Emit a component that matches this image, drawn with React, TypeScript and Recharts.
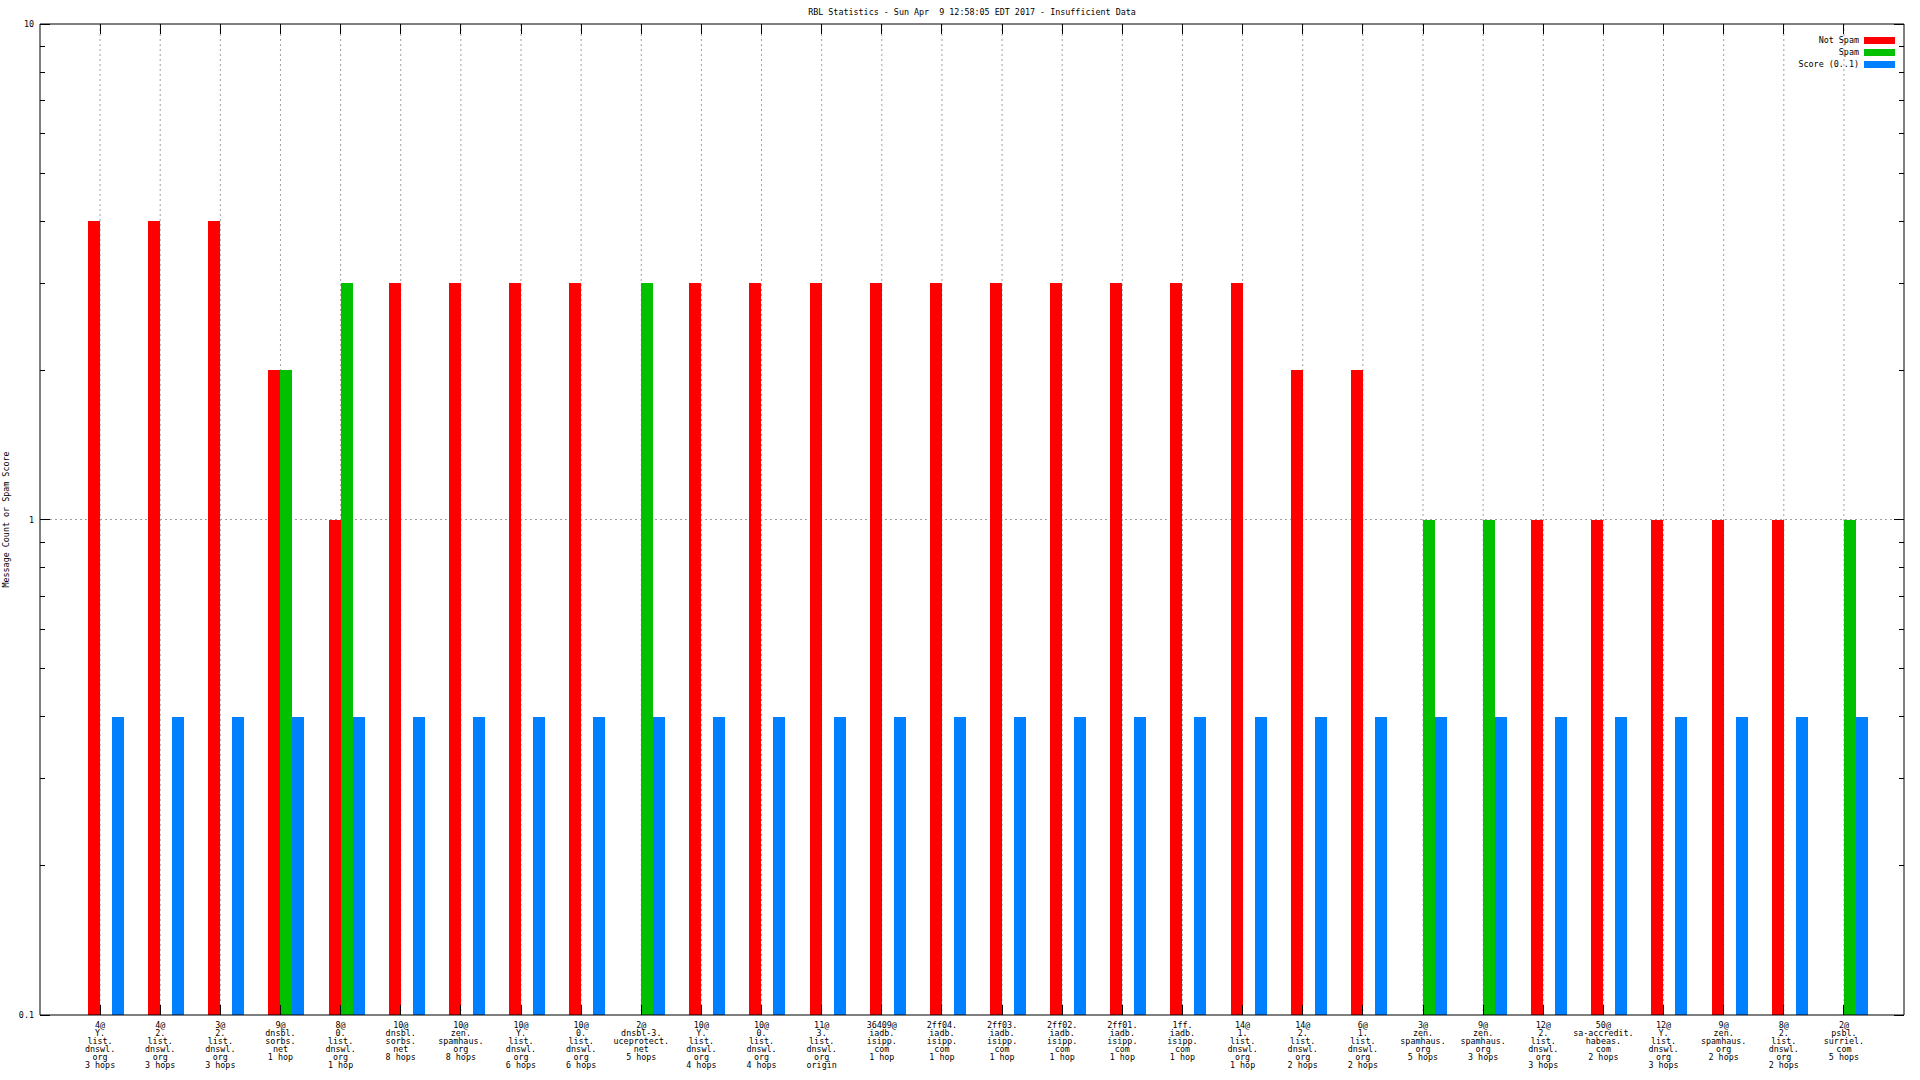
import React from 'react';
import { BarChart, Bar, XAxis, YAxis, CartesianGrid, Legend } from 'recharts';

const TITLE = 'RBL Statistics - Sun Apr  9 12:58:05 EDT 2017 - Insufficient Data';
const Y_TITLE = 'Message Count or Spam Score';

const LABELS = [
  '4@\nY.\nlist.\ndnswl.\norg\n3 hops',
  '4@\n2.\nlist.\ndnswl.\norg\n3 hops',
  '3@\n2.\nlist.\ndnswl.\norg\n3 hops',
  '9@\ndnsbl.\nsorbs.\nnet\n1 hop',
  '8@\n0.\nlist.\ndnswl.\norg\n1 hop',
  '10@\ndnsbl.\nsorbs.\nnet\n8 hops',
  '10@\nzen.\nspamhaus.\norg\n8 hops',
  '10@\nY.\nlist.\ndnswl.\norg\n6 hops',
  '10@\n0.\nlist.\ndnswl.\norg\n6 hops',
  '2@\ndnsbl-3.\nuceprotect.\nnet\n5 hops',
  '10@\nY.\nlist.\ndnswl.\norg\n4 hops',
  '10@\n0.\nlist.\ndnswl.\norg\n4 hops',
  '11@\n3.\nlist.\ndnswl.\norg\norigin',
  '36409@\niadb.\nisipp.\ncom\n1 hop',
  '2ff04.\niadb.\nisipp.\ncom\n1 hop',
  '2ff03.\niadb.\nisipp.\ncom\n1 hop',
  '2ff02.\niadb.\nisipp.\ncom\n1 hop',
  '2ff01.\niadb.\nisipp.\ncom\n1 hop',
  '1ff.\niadb.\nisipp.\ncom\n1 hop',
  '14@\n1.\nlist.\ndnswl.\norg\n1 hop',
  '14@\n2.\nlist.\ndnswl.\norg\n2 hops',
  '6@\n1.\nlist.\ndnswl.\norg\n2 hops',
  '3@\nzen.\nspamhaus.\norg\n5 hops',
  '9@\nzen.\nspamhaus.\norg\n3 hops',
  '12@\n2.\nlist.\ndnswl.\norg\n3 hops',
  '50@\nsa-accredit.\nhabeas.\ncom\n2 hops',
  '12@\nY.\nlist.\ndnswl.\norg\n3 hops',
  '9@\nzen.\nspamhaus.\norg\n2 hops',
  '8@\n2.\nlist.\ndnswl.\norg\n2 hops',
  '2@\npsbl.\nsurriel.\ncom\n5 hops',
];

const NOT_SPAM = [4, 4, 4, 2, 1, 3, 3, 3, 3, null, 3, 3, 3, 3, 3, 3, 3, 3, 3, 3, 2, 2, null, null, 1, 1, 1, 1, 1, null];
const SPAM = [null, null, null, 2, 3, null, null, null, null, 3, null, null, null, null, null, null, null, null, null, null, null, null, 1, 1, null, null, null, null, null, 1];
const SCORE = [0.4, 0.4, 0.4, 0.4, 0.4, 0.4, 0.4, 0.4, 0.4, 0.4, 0.4, 0.4, 0.4, 0.4, 0.4, 0.4, 0.4, 0.4, 0.4, 0.4, 0.4, 0.4, 0.4, 0.4, 0.4, 0.4, 0.4, 0.4, 0.4, 0.4];

const SERIES_NAMES = ['Not Spam', 'Spam', 'Score (0..1)'];

const Y_TICKS = [0.1, 0.2, 0.3, 0.4, 0.5, 0.6, 0.7, 0.8, 0.9, 1, 2, 3, 4, 5, 6, 7, 8, 9, 10];
const Y_MAJOR = [0.1, 1, 10];

const rows = LABELS.map((label, i) => ({ label, notSpam: NOT_SPAM[i], spam: SPAM[i], score: SCORE[i] }));

const FONT = '"DejaVu Sans Mono", monospace';
const FS = 8.4;
const GRID = '#a0a0a0';
const SHIFT = 6; // gnuplot puts the xtic on the red/green boundary, not the cluster middle
const PAD_L = 36;
const PAD_R = 24;

function BottomTick(p: any) {
  const cx = p.x - SHIFT;
  const lines = String(p.payload.value).split('\n');
  return (
    <g>
      <line x1={cx} x2={cx} y1={p.y} y2={p.y - 10} stroke="#000" shapeRendering="crispEdges" />
      <text x={cx} y={p.y + 13} textAnchor="middle" fontFamily={FONT} fontSize={FS} fill="#000">
        {lines.map((l, i) => (
          <tspan key={i} x={cx} dy={i === 0 ? 0 : 8}>{l}</tspan>
        ))}
      </text>
    </g>
  );
}

function TopTick(p: any) {
  const cx = p.x - SHIFT;
  return <line x1={cx} x2={cx} y1={p.y} y2={p.y + 10} stroke="#000" shapeRendering="crispEdges" />;
}

function LeftTick(p: any) {
  const v = p.payload.value;
  const major = Y_MAJOR.includes(v);
  return (
    <g>
      <line x1={p.x} x2={p.x + (major ? 10 : 5)} y1={p.y} y2={p.y} stroke="#000" shapeRendering="crispEdges" />
      {major && (
        <text x={p.x - 6} y={p.y + 3} textAnchor="end" fontFamily={FONT} fontSize={FS} fill="#000">{String(v)}</text>
      )}
    </g>
  );
}

function RightTick(p: any) {
  const major = Y_MAJOR.includes(p.payload.value);
  return <line x1={p.x} x2={p.x - (major ? 10 : 5)} y1={p.y} y2={p.y} stroke="#000" shapeRendering="crispEdges" />;
}

function TitleLabel(p: any) {
  const vb = p.viewBox || { x: 40, y: 0, width: 1864, height: 24 };
  return (
    <text x={vb.x + vb.width / 2} y={15} textAnchor="middle" fontFamily={FONT} fontSize={FS} fill="#000"
      style={{ whiteSpace: 'pre' }}>{TITLE}</text>
  );
}

function YTitle(p: any) {
  const vb = p.viewBox || { x: 0, y: 24, width: 40, height: 991 };
  const x = vb.x + 9;
  const y = vb.y + vb.height / 2;
  return (
    <text x={x} y={y} transform={`rotate(-90 ${x} ${y})`} textAnchor="middle" fontFamily={FONT} fontSize={FS} fill="#000">{Y_TITLE}</text>
  );
}

function LegendBox(p: any) {
  const items = [...(p.payload || [])].sort((a, b) => SERIES_NAMES.indexOf(a.value) - SERIES_NAMES.indexOf(b.value));
  return (
    <div style={{ fontFamily: FONT, fontSize: FS, color: '#000' }}>
      {items.map((it) => (
        <div key={it.value} style={{ display: 'flex', justifyContent: 'flex-end', alignItems: 'center', height: 12 }}>
          <span style={{ marginRight: 5, lineHeight: '12px', whiteSpace: 'pre' }}>{it.value}</span>
          <span style={{ display: 'inline-block', width: 31, height: 7, background: it.color }} />
        </div>
      ))}
    </div>
  );
}

// grid sits on the gnuplot xtics (category band middle minus SHIFT)
const vLines = ({ offset }: any) => {
  const band = (offset.width - PAD_L - PAD_R) / LABELS.length;
  return LABELS.map((_, i) => offset.left + PAD_L + band * (i + 0.5) - SHIFT);
};

// only the y=1 line; 1 is the middle of the 0.1..10 log range
const hLines = ({ offset }: any) => [offset.top + offset.height / 2];

export default function App() {
  return (
    <div style={{ position: 'absolute', left: 0, top: 0, width: 1920, height: 1080, background: '#fff' }}>
      <BarChart width={1920} height={1080} data={rows} margin={{ top: 0, right: 0, bottom: 0, left: 0 }} barCategoryGap={12} barGap={0}>
        <CartesianGrid xAxisId="bottom" yAxisId="left" stroke={GRID} strokeDasharray="2 3"
          verticalCoordinatesGenerator={vLines} horizontalCoordinatesGenerator={hLines} />
        <XAxis xAxisId="bottom" dataKey="label" height={65} interval={0} tickSize={0} tickMargin={0} tickLine={false}
          axisLine={{ stroke: '#000' }} padding={{ left: PAD_L, right: PAD_R }} tick={(p: any) => <BottomTick {...p} />} />
        <XAxis xAxisId="top" orientation="top" dataKey="label" height={24} interval={0} tickSize={0} tickMargin={0} tickLine={false}
          axisLine={{ stroke: '#000' }} padding={{ left: PAD_L, right: PAD_R }} tick={(p: any) => <TopTick {...p} />}
          label={{ content: (p: any) => <TitleLabel {...p} /> }} />
        <YAxis yAxisId="left" type="number" scale="log" domain={[0.1, 10]} allowDataOverflow ticks={Y_TICKS} interval={0} width={40}
          tickSize={0} tickMargin={0} tickLine={false} axisLine={{ stroke: '#000' }} tick={(p: any) => <LeftTick {...p} />}
          label={{ content: (p: any) => <YTitle {...p} /> }} />
        <YAxis yAxisId="right" orientation="right" type="number" scale="log" domain={[0.1, 10]} allowDataOverflow ticks={Y_TICKS} interval={0} width={16}
          tickSize={0} tickMargin={0} tickLine={false} axisLine={{ stroke: '#000' }} tick={(p: any) => <RightTick {...p} />} />
        <Legend layout="horizontal" align="center" verticalAlign="middle" content={(p: any) => <LegendBox {...p} />}
          wrapperStyle={{ top: 34, left: 1695, width: 200, height: 36 }} />
        <Bar xAxisId="bottom" yAxisId="left" dataKey="notSpam" name="Not Spam" fill="#ff0000" isAnimationActive={false} shapeRendering="crispEdges" />
        <Bar xAxisId="bottom" yAxisId="left" dataKey="spam" name="Spam" fill="#00c000" isAnimationActive={false} shapeRendering="crispEdges" />
        <Bar xAxisId="bottom" yAxisId="left" dataKey="score" name="Score (0..1)" fill="#0080ff" isAnimationActive={false} shapeRendering="crispEdges" />
      </BarChart>
    </div>
  );
}
